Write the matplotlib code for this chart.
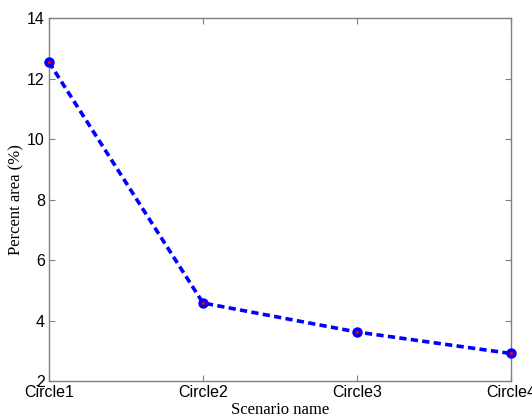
import matplotlib
matplotlib.use("Agg")
import matplotlib.pyplot as plt

# Data
scenarios = ["Circle1", "Circle2", "Circle3", "Circle4"]
percent_area = [12.54, 4.58, 3.62, 2.91]

fig = plt.figure(figsize=(5.32, 4.17), dpi=100)
ax = fig.add_axes([0.092, 0.0863, 0.8685, 0.8705])

x = list(range(len(scenarios)))
ax.plot(x, percent_area, linestyle=(0, (2, 1.2)), color="blue", linewidth=2.6,
        marker="o", markersize=6.5, markerfacecolor="blue", markeredgecolor="blue",
        clip_on=False, zorder=3)
ax.plot(x, percent_area, linestyle="none", marker="o", markersize=1.3,
        color="red", clip_on=False, zorder=4)

ax.set_xlim(0, 3)
ax.set_ylim(2, 14)
ax.set_xticks(x)
ax.set_xticklabels(scenarios)
ax.set_yticks([2, 4, 6, 8, 10, 12, 14])

for lbl in ax.get_xticklabels() + ax.get_yticklabels():
    lbl.set_fontfamily("Liberation Sans")
    lbl.set_fontsize(11.5)

ax.tick_params(direction="in", length=4, width=0.8, color="#808080",
               top=True, right=True, pad=3)
for side in ax.spines.values():
    side.set_color("#808080")
    side.set_linewidth(1.0)

ax.set_xlabel("Scenario name", family="Liberation Serif", fontsize=12, labelpad=1)
ax.set_ylabel("Percent area (%)", family="Liberation Serif", fontsize=12, labelpad=2)

fig.savefig("out.png", dpi=100)
